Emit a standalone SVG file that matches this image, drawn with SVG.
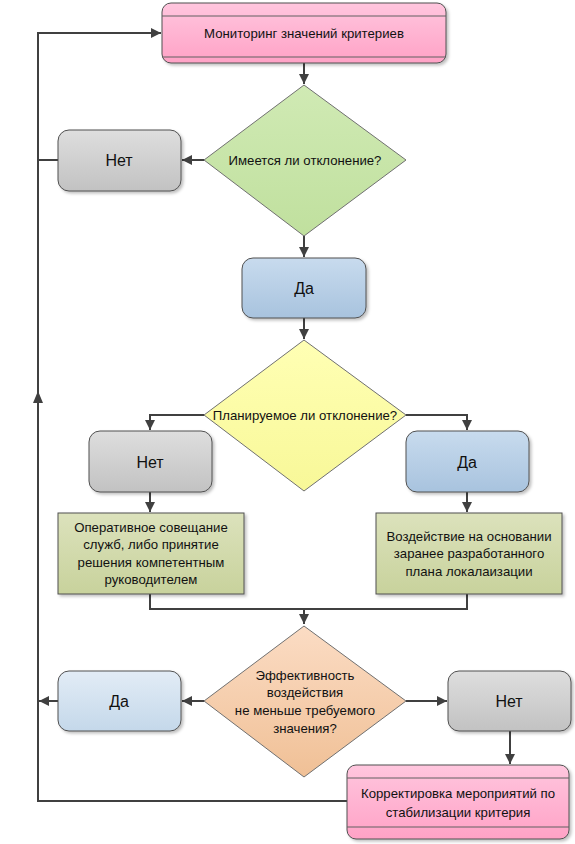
<svg xmlns="http://www.w3.org/2000/svg" width="575" height="844" viewBox="0 0 575 844">
<defs>
<linearGradient id="gPink" x1="0" y1="0" x2="0" y2="1"><stop offset="0" stop-color="#ffc6de"/><stop offset="1" stop-color="#ffa2c6"/></linearGradient>
<linearGradient id="gGray" x1="0" y1="0" x2="0" y2="1"><stop offset="0" stop-color="#dedede"/><stop offset="1" stop-color="#c2c2c2"/></linearGradient>
<linearGradient id="gBlue" x1="0" y1="0" x2="0" y2="1"><stop offset="0" stop-color="#c8dbee"/><stop offset="1" stop-color="#a8c3de"/></linearGradient>
<linearGradient id="gLBlue" x1="0" y1="0" x2="0" y2="1"><stop offset="0" stop-color="#e2ecf6"/><stop offset="1" stop-color="#c4d8ea"/></linearGradient>
<linearGradient id="gGreen" x1="0" y1="0" x2="0" y2="1"><stop offset="0" stop-color="#d0eab4"/><stop offset="1" stop-color="#c0e09e"/></linearGradient>
<linearGradient id="gYellow" x1="0" y1="0" x2="0" y2="1"><stop offset="0" stop-color="#ffffb4"/><stop offset="1" stop-color="#f8f898"/></linearGradient>
<linearGradient id="gOlive" x1="0" y1="0" x2="0" y2="1"><stop offset="0" stop-color="#dce2bc"/><stop offset="1" stop-color="#c8d29c"/></linearGradient>
<linearGradient id="gOrange" x1="0" y1="0" x2="0" y2="1"><stop offset="0" stop-color="#fbdcc4"/><stop offset="1" stop-color="#f0c096"/></linearGradient>
<filter id="sh" x="-10%" y="-10%" width="130%" height="130%"><feDropShadow dx="2" dy="2" stdDeviation="1.5" flood-color="#000" flood-opacity="0.25"/></filter>
<marker id="ah" viewBox="0 0 10 10" refX="10" refY="5" markerWidth="10" markerHeight="10" markerUnits="userSpaceOnUse" orient="auto"><path d="M0,0 L10,5 L0,10 z" fill="#404040"/></marker>
</defs>
<style>
.box{stroke:#505050;stroke-width:1;filter:url(#sh)}
.dia{stroke:#707070;stroke-width:1}
.ln{fill:none;stroke:#404040;stroke-width:2}
.sep{stroke:#606060;stroke-width:1}
text{font-family:"Liberation Sans",Arial,sans-serif;fill:#111;text-anchor:middle}
.s{font-size:13.2px}
.b{font-size:16px}
</style>
<g id="connectors">
<path class="ln" d="M304,63 V84" marker-end="url(#ah)"/>
<path class="ln" d="M204,160 H182" marker-end="url(#ah)"/>
<path class="ln" d="M58,160 H38"/>
<path class="ln" d="M304,236 V257" marker-end="url(#ah)"/>
<path class="ln" d="M304,318 V339" marker-end="url(#ah)"/>
<path class="ln" d="M204,415 H150 V430" marker-end="url(#ah)"/>
<path class="ln" d="M406,415 H467 V430" marker-end="url(#ah)"/>
<path class="ln" d="M150,492 V512" marker-end="url(#ah)"/>
<path class="ln" d="M467,492 V512" marker-end="url(#ah)"/>
<path class="ln" d="M150,594 V609 H467 V594"/>
<path class="ln" d="M304,609 V624" marker-end="url(#ah)"/>
<path class="ln" d="M204,701 H182" marker-end="url(#ah)"/>
<path class="ln" d="M58,701 H39" marker-end="url(#ah)"/>
<path class="ln" d="M406,701 H447" marker-end="url(#ah)"/>
<path class="ln" d="M510,731 V764" marker-end="url(#ah)"/>
<path class="ln" d="M347,801 H38 V33 H161" marker-end="url(#ah)"/>
<path d="M33,403 L38,391 L43,403 z" fill="#404040"/>
</g>
<g id="n-monitor">
<rect class="box" x="162" y="3" width="284" height="60" rx="9" fill="url(#gPink)"/>
<line class="sep" x1="162" y1="16" x2="446" y2="16"/>
<line class="sep" x1="162" y1="57" x2="446" y2="57"/>
<text class="s" x="304" y="38">Мониторинг значений критериев</text>
</g>
<g id="n-dev">
<polygon class="dia" points="304,85 406,160 304,236 204,160" fill="url(#gGreen)"/>
<text class="s" x="305" y="165">Имеется ли отклонение?</text>
</g>
<g id="n-no1">
<rect class="box" x="58" y="130" width="123" height="61" rx="11" fill="url(#gGray)"/>
<text class="b" x="119" y="166">Нет</text>
</g>
<g id="n-yes1">
<rect class="box" x="242" y="258" width="124" height="60" rx="11" fill="url(#gBlue)"/>
<text class="b" x="304" y="294">Да</text>
</g>
<g id="n-plan">
<polygon class="dia" points="304,340 406,415 304,491 204,415" fill="url(#gYellow)"/>
<text class="s" x="305" y="420">Планируемое ли отклонение?</text>
</g>
<g id="n-no2">
<rect class="box" x="89" y="431" width="123" height="61" rx="11" fill="url(#gGray)"/>
<text class="b" x="150" y="468">Нет</text>
</g>
<g id="n-yes2">
<rect class="box" x="406" y="431" width="123" height="61" rx="11" fill="url(#gBlue)"/>
<text class="b" x="467" y="468">Да</text>
</g>
<g id="n-meeting">
<rect class="box" x="58" y="513" width="186" height="81" fill="url(#gOlive)"/>
<text class="s" x="151" y="532">Оперативное совещание</text>
<text class="s" x="151" y="549">служб, либо принятие</text>
<text class="s" x="151" y="567">решения компетентным</text>
<text class="s" x="151" y="584">руководителем</text>
</g>
<g id="n-plan-action">
<rect class="box" x="376" y="513" width="186" height="81" fill="url(#gOlive)"/>
<text class="s" x="469" y="541">Воздействие на основании</text>
<text class="s" x="469" y="558">заранее разработанного</text>
<text class="s" x="469" y="576">плана локалаизации</text>
</g>
<g id="n-eff">
<polygon class="dia" points="304,626 406,701 304,777 204,701" fill="url(#gOrange)"/>
<text class="s" x="305" y="680">Эффективность</text>
<text class="s" x="305" y="697">воздействия</text>
<text class="s" x="305" y="715">не меньше требуемого</text>
<text class="s" x="305" y="733">значения?</text>
</g>
<g id="n-yes3">
<rect class="box" x="58" y="671" width="123" height="60" rx="11" fill="url(#gLBlue)"/>
<text class="b" x="119" y="707">Да</text>
</g>
<g id="n-no3">
<rect class="box" x="448" y="671" width="123" height="60" rx="11" fill="url(#gGray)"/>
<text class="b" x="509" y="707">Нет</text>
</g>
<g id="n-correct">
<rect class="box" x="347" y="765" width="222" height="74" rx="9" fill="url(#gPink)"/>
<line class="sep" x1="347" y1="778" x2="569" y2="778"/>
<line class="sep" x1="347" y1="827" x2="569" y2="827"/>
<text class="s" x="458" y="798">Корректировка мероприятий по</text>
<text class="s" x="458" y="817">стабилизации критерия</text>
</g>
</svg>
